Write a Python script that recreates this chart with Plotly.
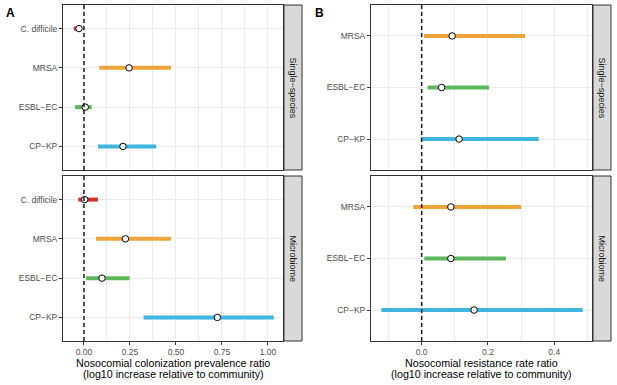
import plotly.graph_objects as go

# ---------------- data ----------------
species_A = ["C. difficile", "MRSA", "ESBL\u2212EC", "CP\u2212KP"]
A_single_est = [-0.027, 0.245, 0.007, 0.212]
A_single_lo = [-0.055, 0.083, -0.049, 0.076]
A_single_hi = [-0.012, 0.473, 0.042, 0.393]
A_micro_est = [0.004, 0.225, 0.098, 0.725]
A_micro_lo = [-0.031, 0.065, 0.011, 0.324]
A_micro_hi = [0.076, 0.473, 0.248, 1.032]

species_B = ["MRSA", "ESBL\u2212EC", "CP\u2212KP"]
B_single_est = [0.092, 0.060, 0.113]
B_single_lo = [0.007, 0.018, -0.003]
B_single_hi = [0.312, 0.203, 0.353]
B_micro_est = [0.088, 0.088, 0.158]
B_micro_lo = [-0.025, 0.008, -0.122]
B_micro_hi = [0.300, 0.254, 0.486]

colors = {"C. difficile": "#D7302C", "MRSA": "#EFA43A",
          "ESBL\u2212EC": "#5DB75B", "CP\u2212KP": "#3FB5E0"}
facets = ["Single\u2212species", "Microbiome"]
title_A = ["Nosocomial colonization prevalence ratio", "(log10 increase relative to community)"]
title_B = ["Nosocomial resistance rate ratio", "(log10 increase relative to community)"]

W, H = 617, 385
FONT = "Liberation Sans, Arial, Helvetica, sans-serif"

def px_x(p):
    return p / W

def px_y(p):
    return 1 - p / H

fig = go.Figure()

panels = [
    ("x", "y", species_A, A_single_est, A_single_lo, A_single_hi),
    ("x2", "y2", species_A, A_micro_est, A_micro_lo, A_micro_hi),
    ("x3", "y3", species_B, B_single_est, B_single_lo, B_single_hi),
    ("x4", "y4", species_B, B_micro_est, B_micro_lo, B_micro_hi),
]

for xa, ya, sp, est, lo, hi in panels:
    for s, e, l, h in zip(sp, est, lo, hi):
        fig.add_trace(go.Scatter(
            x=[e], y=[s], xaxis=xa, yaxis=ya, mode="markers",
            marker=dict(size=6.5, color="white", line=dict(color="black", width=1)),
            error_x=dict(type="data", symmetric=False, array=[h - e], arrayminus=[e - l],
                         color=colors[s], thickness=4, width=0),
            showlegend=False, hoverinfo="skip"))

# geometry in pixels
A_x = (63, 283)
B_x = (371, 592)
top_y = (5, 170)
bot_y = (176, 341)

tickfont = dict(family=FONT, size=8.5, color="#4D4D4D")
border = "#333333"
grid = "#EBEBEB"

def xaxis(dom, rng, dtick, fmt, show):
    return dict(domain=[px_x(dom[0]), px_x(dom[1])], range=rng, dtick=dtick, tick0=0,
                tickformat=fmt, showticklabels=show, ticks="outside" if show else "",
                ticklen=3, tickcolor=border, tickwidth=1, tickfont=tickfont,
                showgrid=True, gridcolor=grid, gridwidth=0.8,
                minor=dict(dtick=dtick / 2, tick0=0, showgrid=True, gridcolor=grid, gridwidth=0.4),
                showline=True, linecolor=border, linewidth=1, mirror=True, zeroline=False)

def yaxis(dom, cats, anchor):
    n = len(cats)
    return dict(domain=[px_y(dom[1]), px_y(dom[0])], type="category", categoryorder="array",
                categoryarray=cats, range=[n - 1 + 0.6, -0.6], anchor=anchor,
                ticks="outside", ticklen=3, tickcolor=border, tickwidth=1, tickfont=tickfont,
                showgrid=True, gridcolor=grid, gridwidth=0.8,
                showline=True, linecolor=border, linewidth=1, mirror=True, zeroline=False)

rngA = [-0.114, 1.082]
rngB = [-0.153, 0.514]

fig.update_layout(
    width=W, height=H, margin=dict(l=0, r=0, t=0, b=0),
    paper_bgcolor="white", plot_bgcolor="white",
    font=dict(family=FONT),
    xaxis=dict(**xaxis(A_x, rngA, 0.25, ".2f", False), anchor="y"),
    xaxis2=dict(**xaxis(A_x, rngA, 0.25, ".2f", True), anchor="y2"),
    xaxis3=dict(**xaxis(B_x, rngB, 0.2, ".1f", False), anchor="y3"),
    xaxis4=dict(**xaxis(B_x, rngB, 0.2, ".1f", True), anchor="y4"),
    yaxis=yaxis(top_y, species_A, "x"),
    yaxis2=yaxis(bot_y, species_A, "x2"),
    yaxis3=yaxis(top_y, species_B, "x3"),
    yaxis4=yaxis(bot_y, species_B, "x4"),
)

# dashed zero lines
for xa, ya in [("x", "y"), ("x2", "y2"), ("x3", "y3"), ("x4", "y4")]:
    fig.add_shape(type="line", xref=xa, yref=ya + " domain", x0=0, x1=0, y0=0, y1=1,
                  line=dict(color="#1A1A1A", width=1.5, dash="4px,3px"), layer="above")

# strips
strips = [((284, 302), top_y, facets[0]), ((284, 302), bot_y, facets[1]),
          ((593, 611), top_y, facets[0]), ((593, 611), bot_y, facets[1])]
for (sx0, sx1), (sy0, sy1), label in strips:
    fig.add_shape(type="rect", xref="paper", yref="paper",
                  x0=px_x(sx0), x1=px_x(sx1), y0=px_y(sy1), y1=px_y(sy0),
                  fillcolor="#D9D9D9", line=dict(color=border, width=1), layer="above")
    fig.add_annotation(x=px_x((sx0 + sx1) / 2), y=px_y((sy0 + sy1) / 2), xref="paper", yref="paper",
                       text=label, textangle=90, showarrow=False,
                       font=dict(family=FONT, size=9, color="#1A1A1A"),
                       xanchor="center", yanchor="middle")

# axis titles
for dom, lines in [(A_x, title_A), (B_x, title_B)]:
    cx = px_x((dom[0] + dom[1]) / 2)
    for yy, t in zip([362.5, 374], lines):
        fig.add_annotation(x=cx, y=px_y(yy), xref="paper", yref="paper", text=t,
                           showarrow=False, xanchor="center", yanchor="middle",
                           font=dict(family=FONT, size=10.7, color="black"))

# panel labels
for x, lab in [(10.5, "A"), (319.5, "B")]:
    fig.add_annotation(x=px_x(x), y=px_y(13), xref="paper", yref="paper", text="<b>%s</b>" % lab,
                       showarrow=False, xanchor="center", yanchor="middle",
                       font=dict(family=FONT, size=12, color="black"))

fig.write_html("out.html", config={"displayModeBar": False},
               post_script="document.body.style.margin='0';")
